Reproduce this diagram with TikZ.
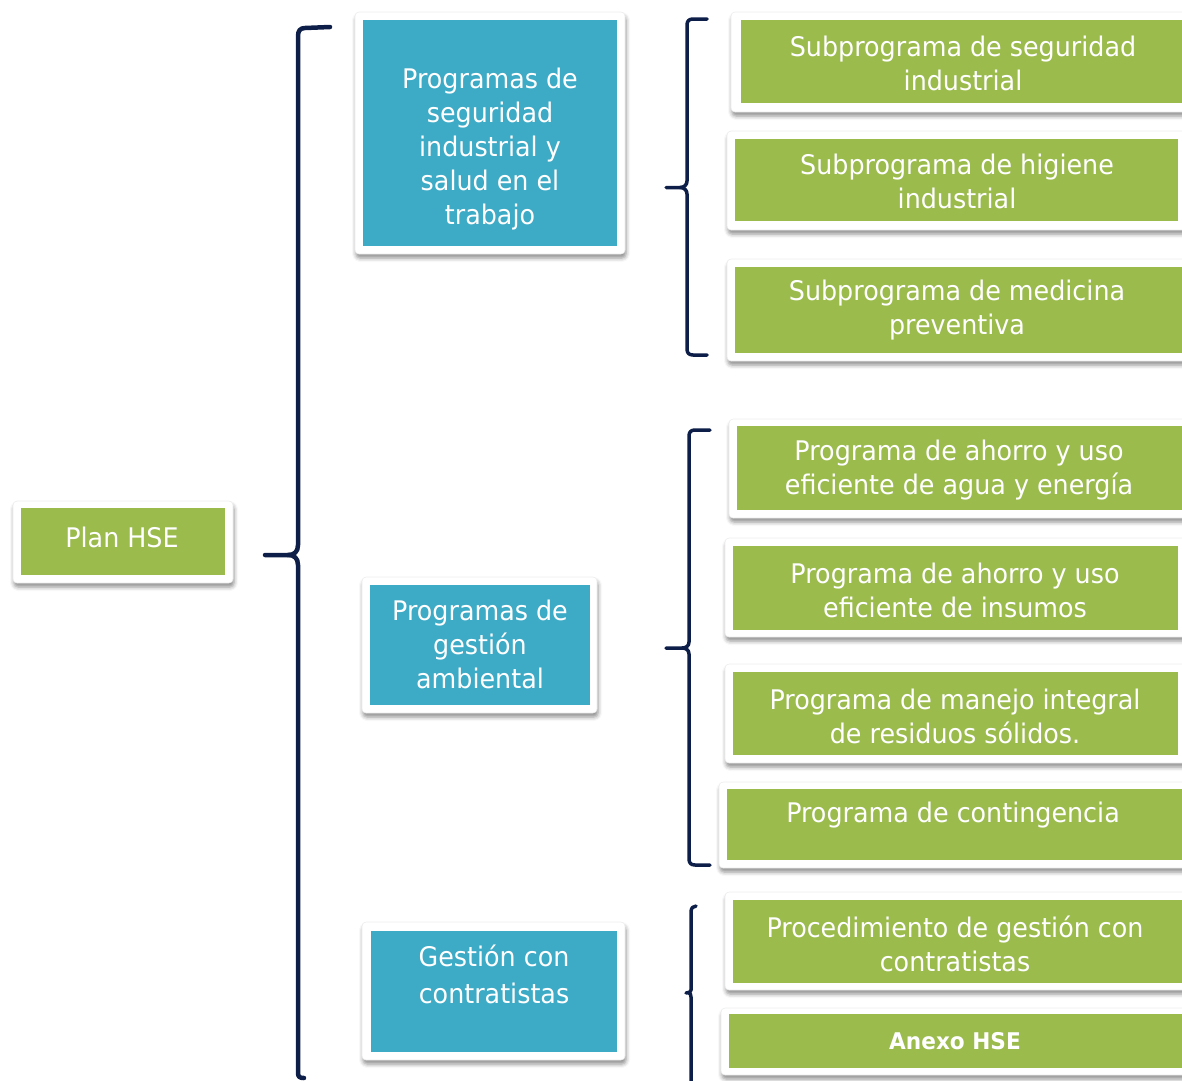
\documentclass[tikz,border=0pt]{standalone}
\usepackage{fontspec}
\setmainfont[FakeStretch=0.94]{DejaVu Sans}
\usetikzlibrary{fit,shadows.blur}
\definecolor{hsegreen}{HTML}{9BBB4D}
\definecolor{hseblue}{HTML}{3DAAC6}
\definecolor{hsenavy}{HTML}{0D1F48}
\tikzset{
  frame/.style={fill=white, draw=black!7, line width=0.6pt, rounded corners=4pt, inner sep=0pt,
    blur shadow={shadow xshift=1pt, shadow yshift=-4pt, shadow blur radius=4pt, shadow opacity=45}},
  greenfill/.style={fill=hsegreen, draw=none, inner sep=0pt},
  bluefill/.style={fill=hseblue, draw=none, inner sep=0pt},
  txt/.style={text=white, align=center, inner sep=0pt, font=\fontsize{27}{34}\selectfont},
  bracestyle/.style={draw=hsenavy, line width=4pt, line cap=round, line join=round},
}
\begin{document}
\begin{tikzpicture}[x=1pt,y=-1pt]
\useasboundingbox (0,0) rectangle (1182,1080);
\clip (0,0) rectangle (1182,1080);
% Plan HSE
\node[frame, fit={(13,501) (233,583)}] (planf) {};
\node[greenfill, fit={(21,508) (225,575)}] (plan) {};
\node[txt] (plant) at (122,537) {Plan HSE};
% blue boxes
\node[frame, fit={(355,12) (625,254)}] (b1f) {};
\node[bluefill, fit={(363,20) (617,246)}] (b1) {};
\node[txt] (b1t) at (490,149) {Programas de\\seguridad\\industrial y\\salud en el\\trabajo};
\node[frame, fit={(362,577) (597,713)}] (b2f) {};
\node[bluefill, fit={(370,585) (590,705)}] (b2) {};
\node[txt] (b2t) at (480,644) {Programas de\\gestión\\ambiental};
\node[frame, fit={(362,922) (625,1060)}] (b3f) {};
\node[bluefill, fit={(371,931) (617,1052)}] (b3) {};
\node[txt, font=\fontsize{27}{37}\selectfont] (b3t) at (494,974) {Gestión con\\contratistas};
% green boxes
\node[frame, fit={(731,12) (1190,112)}] (g1f) {};
\node[greenfill, fit={(741,20) (1190,103)}] (g1) {};
\node[txt] (g1t) at (963,63) {Subprograma de seguridad\\industrial};
\node[frame, fit={(727,131) (1186,230)}] (g2f) {};
\node[greenfill, fit={(735,139) (1178,221)}] (g2) {};
\node[txt] (g2t) at (957,181) {Subprograma de higiene\\industrial};
\node[frame, fit={(727,259) (1190,361)}] (g3f) {};
\node[greenfill, fit={(735,267) (1190,353)}] (g3) {};
\node[txt] (g3t) at (957,310) {Subprograma de medicina\\preventiva};
\node[frame, fit={(729,419) (1190,518)}] (g4f) {};
\node[greenfill, fit={(737,426) (1190,510)}] (g4) {};
\node[txt] (g4t) at (959,470) {Programa de ahorro y uso\\eficiente de agua y energía};
\node[frame, fit={(725,538) (1186,637)}] (g5f) {};
\node[greenfill, fit={(733,546) (1178,630)}] (g5) {};
\node[txt] (g5t) at (955,590) {Programa de ahorro y uso\\eficiente de insumos};
\node[frame, fit={(725,664) (1186,763)}] (g6f) {};
\node[greenfill, fit={(733,672) (1178,755)}] (g6) {};
\node[txt] (g6t) at (955,716) {Programa de manejo integral\\de residuos sólidos.};
\node[frame, fit={(719,782) (1190,868)}] (g7f) {};
\node[greenfill, fit={(727,789) (1190,860)}] (g7) {};
\node[txt] (g7t) at (953,815) {Programa de contingencia};
\node[frame, fit={(725,892) (1190,990)}] (g8f) {};
\node[greenfill, fit={(733,900) (1190,983)}] (g8) {};
\node[txt] (g8t) at (955,944) {Procedimiento de gestión con\\contratistas};
\node[frame, fit={(721,1008) (1190,1075)}] (g9f) {};
\node[greenfill, fit={(729,1014) (1190,1068)}] (g9) {};
\node[txt, font=\bfseries\fontsize{23}{28}\selectfont] (g9t) at (955,1041) {Anexo HSE};
% main brace
\draw[bracestyle, line width=4.5pt] (330,27) -- (305,28) .. controls (300,28) and (298,31) .. (298,36)
  -- (298,545) .. controls (298,552) and (294,555) .. (288,555) -- (265,555);
\draw[bracestyle, line width=4.5pt] (288,555) .. controls (294,555) and (298,558) .. (298,565)
  -- (298,1073) .. controls (298,1077) and (300,1078) .. (304,1078);
% brace 2
\draw[bracestyle, line width=3.5pt] (707,19) -- (693,19) .. controls (689,19) and (687,21) .. (687,25)
  -- (687,181) .. controls (687,185) and (684,187.5) .. (680,187.5) -- (666,187.5);
\draw[bracestyle, line width=3.5pt] (680,187.5) .. controls (684,187.5) and (687,190) .. (687,194)
  -- (687,349) .. controls (687,353) and (689,355) .. (693,355) -- (707,355);
% brace 3
\draw[bracestyle, line width=3.5pt] (710,430) -- (695,430) .. controls (691,430) and (689,432) .. (689,436)
  -- (689,642) .. controls (689,646) and (686,648) .. (682,648) -- (666,648);
\draw[bracestyle, line width=3.5pt] (682,648) .. controls (686,648) and (689,650) .. (689,654)
  -- (689,859) .. controls (689,863) and (691,865) .. (695,865) -- (710,865);
% brace 4
\draw[bracestyle, line width=3.5pt] (696,906) .. controls (693,906) and (691,908) .. (691,912)
  -- (691,990) .. controls (691,992) and (689,993) .. (686,993);
\draw[bracestyle, line width=3.5pt] (689,993) .. controls (690,993) and (691,994) .. (691,997) -- (691,1085);
\end{tikzpicture}
\end{document}
